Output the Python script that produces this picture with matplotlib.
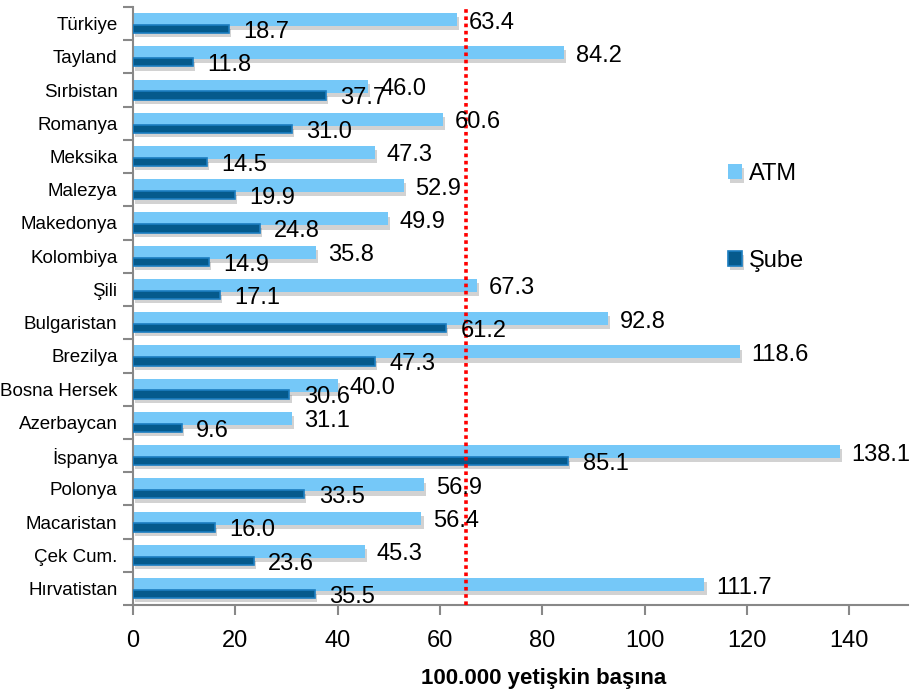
import matplotlib
matplotlib.use("Agg")
import matplotlib.pyplot as plt
import matplotlib.patheffects as pe
import numpy as np

countries = ["Türkiye", "Tayland", "Sırbistan", "Romanya", "Meksika", "Malezya",
             "Makedonya", "Kolombiya", "Şili", "Bulgaristan", "Brezilya",
             "Bosna Hersek", "Azerbaycan", "İspanya", "Polonya", "Macaristan",
             "Çek Cum.", "Hırvatistan"]
atm = [63.4, 84.2, 46.0, 60.6, 47.3, 52.9, 49.9, 35.8, 67.3, 92.8, 118.6,
       40.0, 31.1, 138.1, 56.9, 56.4, 45.3, 111.7]
sube = [18.7, 11.8, 37.7, 31.0, 14.5, 19.9, 24.8, 14.9, 17.1, 61.2, 47.3,
        30.6, 9.6, 85.1, 33.5, 16.0, 23.6, 35.5]
reference_level = 65.0
x_ticks = [0, 20, 40, 60, 80, 100, 120, 140]

plt.rcParams["font.family"] = ["Liberation Sans Narrow", "Liberation Sans", "DejaVu Sans"]

fig = plt.figure(figsize=(9.1, 6.94), dpi=100)
ax = fig.add_axes([0.146, 0.128, 0.852, 0.862])

y = np.arange(len(countries))
shadow = [pe.SimplePatchShadow(offset=(1.5, -3), shadow_rgbFace="#7f7f7f", alpha=0.35), pe.Normal()]

ax.barh(y - 0.12, atm, height=0.39, color="#75C8F8", edgecolor="none",
        label="ATM", path_effects=shadow, zorder=2)
ax.barh(y + 0.165, sube, height=0.25, color="#055A8C", edgecolor="#1B7DC0",
        linewidth=1.2, label="Şube", path_effects=shadow, zorder=3)

for yi, a, s in zip(y, atm, sube):
    ax.text(a + 2.3, yi - 0.03, f"{a:.1f}", va="center", ha="left", fontsize=17, zorder=5)
    ax.text(s + 2.8, yi + 0.25, f"{s:.1f}", va="center", ha="left", fontsize=17, zorder=5)

ax.axvline(reference_level, color="#FF0000", linestyle=(0, (1, 1)), linewidth=2.6, zorder=4)

ax.set_xlim(0, 151.5)
ax.set_ylim(len(countries) - 0.5, -0.5)

ax.set_xticks(x_ticks)
ax.set_xticklabels([str(t) for t in x_ticks], fontsize=17)
ax.set_yticks(y)
ax.set_yticklabels(countries, fontsize=13.5)
ax.set_yticks(np.arange(len(countries) + 1) - 0.5, minor=True)
ax.tick_params(axis="y", which="major", length=0, pad=11)
ax.tick_params(axis="y", which="minor", length=7, color="#888888", width=1.5)
ax.tick_params(axis="x", length=7, color="#888888", width=1.5, pad=11)

for side in ("top", "right"):
    ax.spines[side].set_visible(False)
for side in ("left", "bottom"):
    ax.spines[side].set_color("#888888")
    ax.spines[side].set_linewidth(1.5)

ax.set_xlabel("100.000 yetişkin başına", fontsize=16, fontweight="bold")
ax.xaxis.set_label_coords(0.53, -0.105)

ax.legend(loc="upper left", bbox_to_anchor=(0.74, 0.775), frameon=False, fontsize=17,
          handlelength=0.6, handleheight=0.6, handletextpad=0.3, labelspacing=2.75)

fig.savefig("out.png", dpi=100)
